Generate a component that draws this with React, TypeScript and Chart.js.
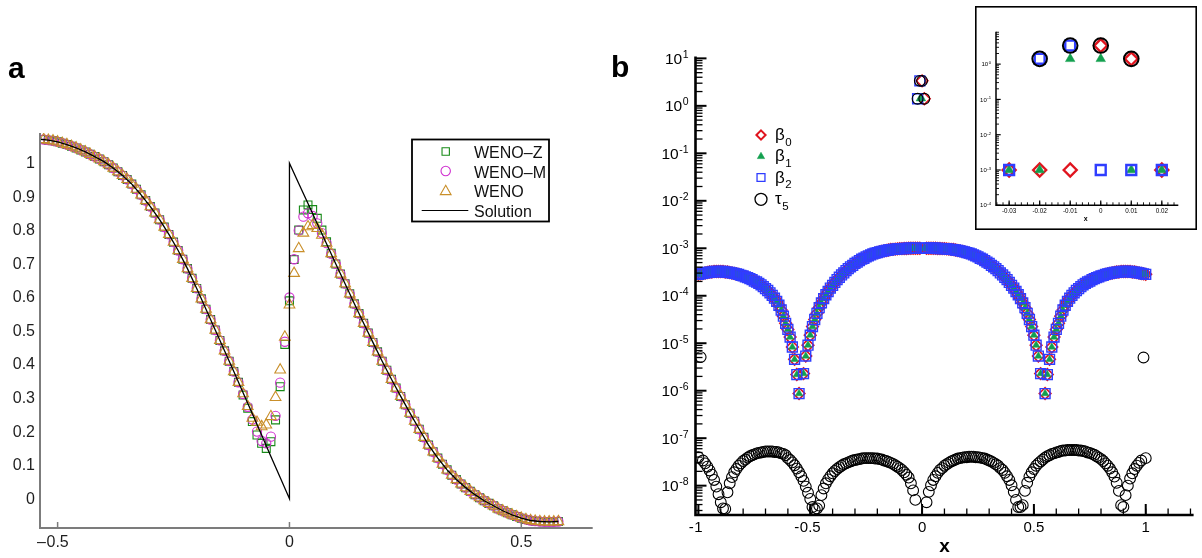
import React, { useEffect, useRef } from 'react';
import { Chart, registerables } from 'chart.js';

Chart.register(...registerables);

const FONT = '"Liberation Sans", Arial, Helvetica, sans-serif';

// ================= Panel a =================
const XA = [
  -0.53, -0.52, -0.51, -0.5, -0.49, -0.48, -0.47, -0.46, -0.45, -0.44,
  -0.43, -0.42, -0.41, -0.4, -0.39, -0.38, -0.37, -0.36, -0.35, -0.34,
  -0.33, -0.32, -0.31, -0.3, -0.29, -0.28, -0.27, -0.26, -0.25, -0.24,
  -0.23, -0.22, -0.21, -0.2, -0.19, -0.18, -0.17, -0.16, -0.15, -0.14,
  -0.13, -0.12, -0.11, -0.1, -0.09, -0.08, -0.07, -0.06, -0.05, -0.04,
  -0.03, -0.02, -0.01, 0, 0.01, 0.02, 0.03, 0.04, 0.05, 0.06,
  0.07, 0.08, 0.09, 0.1, 0.11, 0.12, 0.13, 0.14, 0.15, 0.16,
  0.17, 0.18, 0.19, 0.2, 0.21, 0.22, 0.23, 0.24, 0.25, 0.26,
  0.27, 0.28, 0.29, 0.3, 0.31, 0.32, 0.33, 0.34, 0.35, 0.36,
  0.37, 0.38, 0.39, 0.4, 0.41, 0.42, 0.43, 0.44, 0.45, 0.46,
  0.47, 0.48, 0.49, 0.5, 0.51, 0.52, 0.53, 0.54, 0.55, 0.56,
  0.57, 0.58,
];

const WENO_Z = [
  1.071, 1.069, 1.067, 1.064, 1.06, 1.056, 1.051, 1.046, 1.04, 1.034,
  1.027, 1.02, 1.013, 1.005, 0.996, 0.986, 0.975, 0.964, 0.952, 0.938,
  0.923, 0.906, 0.889, 0.871, 0.852, 0.832, 0.81, 0.788, 0.765, 0.74,
  0.714, 0.686, 0.657, 0.627, 0.596, 0.565, 0.534, 0.503, 0.472, 0.441,
  0.41, 0.379, 0.347,
  0.309, 0.27, 0.23, 0.19, 0.165, 0.15, 0.17, 0.235, 0.334, 0.46,
  0.59, 0.713, 0.801, 0.861, 0.876, 0.862, 0.836, 0.801, 0.766, 0.732, 0.7,
  0.67, 0.641, 0.611, 0.581, 0.552, 0.523, 0.494, 0.466, 0.438, 0.41,
  0.383, 0.356, 0.33, 0.305, 0.28, 0.255, 0.231, 0.207, 0.183, 0.16,
  0.14, 0.121, 0.103, 0.086, 0.07, 0.057, 0.044, 0.033, 0.022, 0.012,
  0.003, -0.006, -0.014, -0.021, -0.03, -0.036, -0.042, -0.048, -0.053, -0.058,
  -0.062, -0.065, -0.067, -0.068, -0.069, -0.069, -0.069, -0.068,
];

const WENO_M = [
  1.071, 1.069, 1.067, 1.064, 1.06, 1.056, 1.051, 1.046, 1.04, 1.034,
  1.027, 1.02, 1.013, 1.005, 0.996, 0.986, 0.975, 0.964, 0.952, 0.938,
  0.923, 0.906, 0.889, 0.871, 0.852, 0.832, 0.81, 0.788, 0.765, 0.74,
  0.714, 0.686, 0.657, 0.627, 0.596, 0.565, 0.534, 0.503, 0.472, 0.441,
  0.41, 0.379, 0.347,
  0.312, 0.274, 0.236, 0.2, 0.172, 0.165, 0.185, 0.247, 0.346, 0.468,
  0.6, 0.714, 0.8, 0.841, 0.851, 0.843, 0.821, 0.792, 0.762, 0.73, 0.7,
  0.67, 0.641, 0.611, 0.581, 0.552, 0.523, 0.494, 0.466, 0.438, 0.41,
  0.383, 0.356, 0.33, 0.305, 0.28, 0.255, 0.231, 0.207, 0.183, 0.16,
  0.14, 0.121, 0.103, 0.086, 0.07, 0.057, 0.044, 0.033, 0.022, 0.012,
  0.003, -0.006, -0.014, -0.021, -0.03, -0.036, -0.042, -0.048, -0.053, -0.058,
  -0.062, -0.065, -0.067, -0.068, -0.069, -0.069, -0.069, -0.068,
];

const WENO_CLASSIC = [
  1.071, 1.069, 1.067, 1.064, 1.06, 1.056, 1.051, 1.046, 1.04, 1.034,
  1.027, 1.02, 1.013, 1.005, 0.996, 0.986, 0.975, 0.964, 0.952, 0.938,
  0.923, 0.906, 0.889, 0.871, 0.852, 0.832, 0.81, 0.788, 0.765, 0.74,
  0.714, 0.686, 0.657, 0.627, 0.596, 0.565, 0.534, 0.503, 0.472, 0.441,
  0.41, 0.379, 0.347,
  0.313, 0.275, 0.24, 0.228, 0.215, 0.22, 0.245, 0.302, 0.384, 0.482,
  0.578, 0.672, 0.746, 0.792, 0.811, 0.815, 0.806, 0.786, 0.762, 0.731, 0.7,
  0.67, 0.641, 0.611, 0.581, 0.552, 0.523, 0.494, 0.466, 0.438, 0.41,
  0.383, 0.356, 0.33, 0.305, 0.28, 0.255, 0.231, 0.207, 0.183, 0.16,
  0.14, 0.121, 0.103, 0.086, 0.07, 0.057, 0.044, 0.033, 0.022, 0.012,
  0.003, -0.006, -0.014, -0.021, -0.03, -0.036, -0.042, -0.048, -0.053, -0.058,
  -0.062, -0.065, -0.067, -0.068, -0.069, -0.069, -0.069, -0.068,
];

const SOL_X = [
  -0.54, -0.52, -0.5, -0.48, -0.46, -0.44, -0.42, -0.4, -0.38, -0.36,
  -0.34, -0.32, -0.3, -0.28, -0.26, -0.24, -0.22, -0.2, -0.18, -0.16,
  -0.14, -0.12, -0.1, -0.08, -0.06, -0.04, -0.02, 0,
  0, 0.02, 0.04, 0.06, 0.08, 0.1, 0.12, 0.14, 0.16, 0.18,
  0.2, 0.22, 0.24, 0.26, 0.28, 0.3, 0.32, 0.34, 0.36, 0.38,
  0.4, 0.42, 0.44, 0.46, 0.48, 0.5, 0.52, 0.54, 0.56, 0.58,
];
const SOL_Y = [
  1.072, 1.069, 1.064, 1.056, 1.046, 1.034, 1.02, 1.005, 0.986, 0.964,
  0.938, 0.906, 0.871, 0.832, 0.788, 0.74, 0.686, 0.627, 0.565, 0.503,
  0.441, 0.379, 0.316, 0.253, 0.19, 0.126, 0.063, 0,
  1.0, 0.94, 0.88, 0.82, 0.76, 0.7, 0.641, 0.581, 0.523, 0.466,
  0.41, 0.356, 0.305, 0.255, 0.207, 0.16, 0.121, 0.086, 0.057, 0.033,
  0.012, -0.006, -0.021, -0.036, -0.048, -0.058, -0.065, -0.068, -0.069, -0.068,
];

const A_SERIES = ['WENO–Z', 'WENO–M', 'WENO', 'Solution'];
const A_X_TICKS = [-0.5, 0, 0.5];
const A_X_LABELS = ['–0.5', '0', '0.5'];
const A_Y_TICKS = [0, 0.1, 0.2, 0.3, 0.4, 0.5, 0.6, 0.7, 0.8, 0.9, 1];
const A_Y_LABELS = ['0', '0.1', '0.2', '0.3', '0.4', '0.5', '0.6', '0.7', '0.8', '0.9', '1'];
const A_X_RANGE = [-0.538, 0.654];
const A_Y_RANGE = [-0.0874, 1.0904];

// ================= Panel b =================
const XB = [
  -1, -0.99, -0.98, -0.97, -0.96, -0.95, -0.94, -0.93, -0.92, -0.91,
  -0.9, -0.89, -0.88, -0.87, -0.86, -0.85, -0.84, -0.83, -0.82, -0.81,
  -0.8, -0.79, -0.78, -0.77, -0.76, -0.75, -0.74, -0.73, -0.72, -0.71,
  -0.7, -0.69, -0.68, -0.67, -0.66, -0.65, -0.64, -0.63, -0.62, -0.61,
  -0.6, -0.59, -0.58, -0.57, -0.56, -0.55, -0.54, -0.53, -0.52, -0.51,
  -0.5, -0.49, -0.48, -0.47, -0.46, -0.45, -0.44, -0.43, -0.42, -0.41,
  -0.4, -0.39, -0.38, -0.37, -0.36, -0.35, -0.34, -0.33, -0.32, -0.31,
  -0.3, -0.29, -0.28, -0.27, -0.26, -0.25, -0.24, -0.23, -0.22, -0.21,
  -0.2, -0.19, -0.18, -0.17, -0.16, -0.15, -0.14, -0.13, -0.12, -0.11,
  -0.1, -0.09, -0.08, -0.07, -0.06, -0.05, -0.04, -0.03, -0.02, -0.01,
  0,
  0.01, 0.02, 0.03, 0.04, 0.05, 0.06, 0.07, 0.08, 0.09, 0.1,
  0.11, 0.12, 0.13, 0.14, 0.15, 0.16, 0.17, 0.18, 0.19, 0.2,
  0.21, 0.22, 0.23, 0.24, 0.25, 0.26, 0.27, 0.28, 0.29, 0.3,
  0.31, 0.32, 0.33, 0.34, 0.35, 0.36, 0.37, 0.38, 0.39, 0.4,
  0.41, 0.42, 0.43, 0.44, 0.45, 0.46, 0.47, 0.48, 0.49, 0.5,
  0.51, 0.52, 0.53, 0.54, 0.55, 0.56, 0.57, 0.58, 0.59, 0.6,
  0.61, 0.62, 0.63, 0.64, 0.65, 0.66, 0.67, 0.68, 0.69, 0.7,
  0.71, 0.72, 0.73, 0.74, 0.75, 0.76, 0.77, 0.78, 0.79, 0.8,
  0.81, 0.82, 0.83, 0.84, 0.85, 0.86, 0.87, 0.88, 0.89, 0.9,
  0.91, 0.92, 0.93, 0.94, 0.95, 0.96, 0.97, 0.98, 0.99, 1,
];

const BETA0 = [
  2.82e-4, 2.88e-4, 2.95e-4, 3.02e-4, 3.09e-4, 3.16e-4, 3.16e-4, 3.24e-4, 3.24e-4, 3.24e-4,
  3.24e-4, 3.24e-4, 3.16e-4, 3.16e-4, 3.09e-4, 3.02e-4, 2.95e-4, 2.88e-4, 2.82e-4, 2.69e-4,
  2.63e-4, 2.51e-4, 2.4e-4, 2.29e-4, 2.19e-4, 2.04e-4, 1.95e-4, 1.82e-4, 1.7e-4, 1.55e-4,
  1.41e-4, 1.29e-4, 1.15e-4, 1.02e-4, 8.91e-5, 7.59e-5, 6.31e-5, 5.01e-5, 3.72e-5, 2.63e-5,
  1.95e-5, 1.35e-5, 8.32e-6, 4.57e-6, 2.19e-6, 8.71e-7, 1e-10, 2.29e-6, 5.37e-6, 9.12e-6,
  1.48e-5, 2.24e-5, 3.16e-5, 4.27e-5, 5.62e-5, 7.08e-5, 8.71e-5, 1.05e-4, 1.23e-4, 1.45e-4,
  1.66e-4, 1.91e-4, 2.19e-4, 2.45e-4, 2.75e-4, 3.02e-4, 3.39e-4, 3.72e-4, 4.07e-4, 4.37e-4,
  4.79e-4, 5.13e-4, 5.5e-4, 5.89e-4, 6.17e-4, 6.61e-4, 6.92e-4, 7.24e-4, 7.59e-4, 7.9e-4,
  8.1e-4, 8.4e-4, 8.6e-4, 8.8e-4, 9.0e-4, 9.2e-4, 9.4e-4, 9.5e-4, 9.6e-4, 9.7e-4,
  9.8e-4, 9.8e-4, 9.9e-4, 9.9e-4, 1.0e-3, 1.0e-3, 1.0e-3, 1.0e-3, 1.0e-3, 1.0e-3,
  3.36,
  1.41, 1.0e-3, 1.0e-3, 1.0e-3, 1.0e-3, 1.0e-3, 9.9e-4, 9.9e-4, 9.8e-4, 9.8e-4,
  9.7e-4, 9.6e-4, 9.5e-4, 9.4e-4, 9.2e-4, 9.0e-4, 8.8e-4, 8.6e-4, 8.4e-4, 8.1e-4,
  7.9e-4, 7.59e-4, 7.24e-4, 6.92e-4, 6.61e-4, 6.17e-4, 5.89e-4, 5.5e-4, 5.13e-4, 4.79e-4,
  4.37e-4, 4.07e-4, 3.72e-4, 3.39e-4, 3.02e-4, 2.75e-4, 2.45e-4, 2.19e-4, 1.91e-4, 1.66e-4,
  1.45e-4, 1.23e-4, 1.05e-4, 8.71e-5, 7.08e-5, 5.62e-5, 4.27e-5, 3.16e-5, 2.24e-5, 1.48e-5,
  9.12e-6, 5.37e-6, 2.29e-6, 1e-10, 8.71e-7, 2.19e-6, 4.57e-6, 8.32e-6, 1.35e-5, 1.95e-5,
  2.63e-5, 3.72e-5, 5.01e-5, 6.31e-5, 7.59e-5, 8.91e-5, 1.02e-4, 1.15e-4, 1.29e-4, 1.41e-4,
  1.55e-4, 1.7e-4, 1.82e-4, 1.95e-4, 2.04e-4, 2.19e-4, 2.29e-4, 2.4e-4, 2.51e-4, 2.63e-4,
  2.69e-4, 2.82e-4, 2.88e-4, 2.95e-4, 3.02e-4, 3.09e-4, 3.16e-4, 3.16e-4, 3.24e-4, 3.24e-4,
  3.24e-4, 3.24e-4, 3.24e-4, 3.16e-4, 3.16e-4, 3.09e-4, 3.02e-4, 2.95e-4, 2.88e-4, 2.82e-4,
];

const BETA1 = [
  2.82e-4, 2.88e-4, 2.95e-4, 3.02e-4, 3.09e-4, 3.16e-4, 3.16e-4, 3.24e-4, 3.24e-4, 3.24e-4,
  3.24e-4, 3.24e-4, 3.16e-4, 3.16e-4, 3.09e-4, 3.02e-4, 2.95e-4, 2.88e-4, 2.82e-4, 2.69e-4,
  2.63e-4, 2.51e-4, 2.4e-4, 2.29e-4, 2.19e-4, 2.04e-4, 1.95e-4, 1.82e-4, 1.7e-4, 1.55e-4,
  1.41e-4, 1.29e-4, 1.15e-4, 1.02e-4, 8.91e-5, 7.59e-5, 6.31e-5, 5.01e-5, 3.72e-5, 2.63e-5,
  1.95e-5, 1.35e-5, 8.32e-6, 4.57e-6, 2.19e-6, 8.71e-7, 1e-10, 2.29e-6, 5.37e-6, 9.12e-6,
  1.48e-5, 2.24e-5, 3.16e-5, 4.27e-5, 5.62e-5, 7.08e-5, 8.71e-5, 1.05e-4, 1.23e-4, 1.45e-4,
  1.66e-4, 1.91e-4, 2.19e-4, 2.45e-4, 2.75e-4, 3.02e-4, 3.39e-4, 3.72e-4, 4.07e-4, 4.37e-4,
  4.79e-4, 5.13e-4, 5.5e-4, 5.89e-4, 6.17e-4, 6.61e-4, 6.92e-4, 7.24e-4, 7.59e-4, 7.9e-4,
  8.1e-4, 8.4e-4, 8.6e-4, 8.8e-4, 9.0e-4, 9.2e-4, 9.4e-4, 9.5e-4, 9.6e-4, 9.7e-4,
  9.8e-4, 9.8e-4, 9.9e-4, 9.9e-4, 1.0e-3, 1.0e-3, 1.0e-3, 1.0e-3, 1.0e-3, 1.41,
  1.41,
  1.0e-3, 1.0e-3, 1.0e-3, 1.0e-3, 1.0e-3, 1.0e-3, 9.9e-4, 9.9e-4, 9.8e-4, 9.8e-4,
  9.7e-4, 9.6e-4, 9.5e-4, 9.4e-4, 9.2e-4, 9.0e-4, 8.8e-4, 8.6e-4, 8.4e-4, 8.1e-4,
  7.9e-4, 7.59e-4, 7.24e-4, 6.92e-4, 6.61e-4, 6.17e-4, 5.89e-4, 5.5e-4, 5.13e-4, 4.79e-4,
  4.37e-4, 4.07e-4, 3.72e-4, 3.39e-4, 3.02e-4, 2.75e-4, 2.45e-4, 2.19e-4, 1.91e-4, 1.66e-4,
  1.45e-4, 1.23e-4, 1.05e-4, 8.71e-5, 7.08e-5, 5.62e-5, 4.27e-5, 3.16e-5, 2.24e-5, 1.48e-5,
  9.12e-6, 5.37e-6, 2.29e-6, 1e-10, 8.71e-7, 2.19e-6, 4.57e-6, 8.32e-6, 1.35e-5, 1.95e-5,
  2.63e-5, 3.72e-5, 5.01e-5, 6.31e-5, 7.59e-5, 8.91e-5, 1.02e-4, 1.15e-4, 1.29e-4, 1.41e-4,
  1.55e-4, 1.7e-4, 1.82e-4, 1.95e-4, 2.04e-4, 2.19e-4, 2.29e-4, 2.4e-4, 2.51e-4, 2.63e-4,
  2.69e-4, 2.82e-4, 2.88e-4, 2.95e-4, 3.02e-4, 3.09e-4, 3.16e-4, 3.16e-4, 3.24e-4, 3.24e-4,
  3.24e-4, 3.24e-4, 3.24e-4, 3.16e-4, 3.16e-4, 3.09e-4, 3.02e-4, 2.95e-4, 2.88e-4, 2.82e-4,
];

const BETA2 = [
  2.82e-4, 2.88e-4, 2.95e-4, 3.02e-4, 3.09e-4, 3.16e-4, 3.16e-4, 3.24e-4, 3.24e-4, 3.24e-4,
  3.24e-4, 3.24e-4, 3.16e-4, 3.16e-4, 3.09e-4, 3.02e-4, 2.95e-4, 2.88e-4, 2.82e-4, 2.69e-4,
  2.63e-4, 2.51e-4, 2.4e-4, 2.29e-4, 2.19e-4, 2.04e-4, 1.95e-4, 1.82e-4, 1.7e-4, 1.55e-4,
  1.41e-4, 1.29e-4, 1.15e-4, 1.02e-4, 8.91e-5, 7.59e-5, 6.31e-5, 5.01e-5, 3.72e-5, 2.63e-5,
  1.95e-5, 1.35e-5, 8.32e-6, 4.57e-6, 2.19e-6, 8.71e-7, 1e-10, 2.29e-6, 5.37e-6, 9.12e-6,
  1.48e-5, 2.24e-5, 3.16e-5, 4.27e-5, 5.62e-5, 7.08e-5, 8.71e-5, 1.05e-4, 1.23e-4, 1.45e-4,
  1.66e-4, 1.91e-4, 2.19e-4, 2.45e-4, 2.75e-4, 3.02e-4, 3.39e-4, 3.72e-4, 4.07e-4, 4.37e-4,
  4.79e-4, 5.13e-4, 5.5e-4, 5.89e-4, 6.17e-4, 6.61e-4, 6.92e-4, 7.24e-4, 7.59e-4, 7.9e-4,
  8.1e-4, 8.4e-4, 8.6e-4, 8.8e-4, 9.0e-4, 9.2e-4, 9.4e-4, 9.5e-4, 9.6e-4, 9.7e-4,
  9.8e-4, 9.8e-4, 9.9e-4, 9.9e-4, 1.0e-3, 1.0e-3, 1.0e-3, 1.0e-3, 1.41, 3.36,
  1.0e-3,
  1.0e-3, 1.0e-3, 1.0e-3, 1.0e-3, 1.0e-3, 1.0e-3, 9.9e-4, 9.9e-4, 9.8e-4, 9.8e-4,
  9.7e-4, 9.6e-4, 9.5e-4, 9.4e-4, 9.2e-4, 9.0e-4, 8.8e-4, 8.6e-4, 8.4e-4, 8.1e-4,
  7.9e-4, 7.59e-4, 7.24e-4, 6.92e-4, 6.61e-4, 6.17e-4, 5.89e-4, 5.5e-4, 5.13e-4, 4.79e-4,
  4.37e-4, 4.07e-4, 3.72e-4, 3.39e-4, 3.02e-4, 2.75e-4, 2.45e-4, 2.19e-4, 1.91e-4, 1.66e-4,
  1.45e-4, 1.23e-4, 1.05e-4, 8.71e-5, 7.08e-5, 5.62e-5, 4.27e-5, 3.16e-5, 2.24e-5, 1.48e-5,
  9.12e-6, 5.37e-6, 2.29e-6, 1e-10, 8.71e-7, 2.19e-6, 4.57e-6, 8.32e-6, 1.35e-5, 1.95e-5,
  2.63e-5, 3.72e-5, 5.01e-5, 6.31e-5, 7.59e-5, 8.91e-5, 1.02e-4, 1.15e-4, 1.29e-4, 1.41e-4,
  1.55e-4, 1.7e-4, 1.82e-4, 1.95e-4, 2.04e-4, 2.19e-4, 2.29e-4, 2.4e-4, 2.51e-4, 2.63e-4,
  2.69e-4, 2.82e-4, 2.88e-4, 2.95e-4, 3.02e-4, 3.09e-4, 3.16e-4, 3.16e-4, 3.24e-4, 3.24e-4,
  3.24e-4, 3.24e-4, 3.24e-4, 3.16e-4, 3.16e-4, 3.09e-4, 3.02e-4, 2.95e-4, 2.88e-4, 2.82e-4,
];

const TAU5 = [
  3.98e-8, 5.1e-6, 3.39e-8, 2.95e-8, 2.51e-8, 2.09e-8, 1.7e-8, 1.32e-8, 9.55e-9, 6.61e-9,
  4.47e-9, 3.31e-9, 3.24e-9, 7.24e-9, 1.12e-8, 1.51e-8, 1.91e-8, 2.24e-8, 2.63e-8, 2.95e-8,
  3.31e-8, 3.55e-8, 3.89e-8, 4.17e-8, 4.37e-8, 4.57e-8, 4.79e-8, 4.9e-8, 5.01e-8, 5.13e-8,
  5.25e-8, 5.25e-8, 5.25e-8, 5.25e-8, 5.13e-8, 5.13e-8, 5.01e-8, 4.79e-8, 4.68e-8, 4.37e-8,
  3.8e-8, 3.47e-8, 3.09e-8, 2.69e-8, 2.29e-8, 1.91e-8, 1.58e-8, 1.26e-8, 9.55e-9, 7.08e-9,
  5.25e-9, 3.55e-9, 3.16e-9, 3.31e-9, 3.8e-9, 6.31e-9, 8.71e-9, 1.12e-8, 1.35e-8, 1.58e-8,
  1.82e-8, 2.04e-8, 2.24e-8, 2.45e-8, 2.63e-8, 2.82e-8, 2.95e-8, 3.09e-8, 3.24e-8, 3.39e-8,
  3.47e-8, 3.55e-8, 3.63e-8, 3.72e-8, 3.8e-8, 3.8e-8, 3.8e-8, 3.8e-8, 3.8e-8, 3.72e-8,
  3.72e-8, 3.63e-8, 3.55e-8, 3.39e-8, 3.31e-8, 3.16e-8, 3.02e-8, 2.88e-8, 2.69e-8, 2.51e-8,
  2.34e-8, 2.14e-8, 1.91e-8, 1.7e-8, 1.48e-8, 1.12e-8, 7.94e-9, 5.01e-9, 1.41, 3.36,
  3.36,
  1.41, 4.47e-9, 7.41e-9, 1.02e-8, 1.32e-8, 1.58e-8, 1.86e-8, 2.14e-8, 2.34e-8, 2.63e-8,
  2.82e-8, 3.02e-8, 3.24e-8, 3.39e-8, 3.55e-8, 3.72e-8, 3.8e-8, 3.89e-8, 3.98e-8, 3.98e-8,
  4.07e-8, 4.07e-8, 4.07e-8, 3.98e-8, 3.98e-8, 3.89e-8, 3.8e-8, 3.72e-8, 3.55e-8, 3.39e-8,
  3.24e-8, 3.02e-8, 2.82e-8, 2.63e-8, 2.34e-8, 2.14e-8, 1.86e-8, 1.58e-8, 1.32e-8, 1.02e-8,
  7.41e-9, 5.01e-9, 3.55e-9, 3.55e-9, 3.89e-9, 7.76e-9, 1.15e-8, 1.55e-8, 1.91e-8, 2.24e-8,
  2.63e-8, 2.95e-8, 3.24e-8, 3.55e-8, 3.89e-8, 4.17e-8, 4.37e-8, 4.68e-8, 4.79e-8, 5.01e-8,
  5.13e-8, 5.37e-8, 5.5e-8, 5.5e-8, 5.62e-8, 5.62e-8, 5.62e-8, 5.62e-8, 5.62e-8, 5.5e-8,
  5.5e-8, 5.37e-8, 5.25e-8, 5.01e-8, 4.9e-8, 4.68e-8, 4.47e-8, 4.17e-8, 3.89e-8, 3.63e-8,
  3.31e-8, 2.95e-8, 2.63e-8, 2.29e-8, 1.91e-8, 1.55e-8, 1.15e-8, 7.76e-9, 3.89e-9, 3.55e-9,
  6.31e-9, 1.0e-8, 1.41e-8, 1.82e-8, 2.24e-8, 2.63e-8, 3.02e-8, 3.39e-8, 5.0e-6, 3.8e-8,
];

const B_SERIES = [['β', '0'], ['β', '1'], ['β', '2'], ['τ', '5']];
const B_X_TICKS = [-1, -0.5, 0, 0.5, 1];
const B_X_LABELS = ['-1', '-0.5', '0', '0.5', '1'];
const B_Y_EXPONENTS = [1, 0, -1, -2, -3, -4, -5, -6, -7, -8];
const B_X_RANGE = [-1.013, 1.214];
const B_Y_RANGE = [2.41e-9, 11.0];

const INSET_X_TICKS = [-0.03, -0.02, -0.01, 0, 0.01, 0.02];
const INSET_X_LABELS = ['-0.03', '-0.02', '-0.01', '0', '0.01', '0.02'];
const INSET_Y_EXPONENTS = [0, -1, -2, -3, -4];
const INSET_X_RANGE = [-0.0343, 0.0254];
const INSET_Y_RANGE = [1e-4, 8.3];

// ================= styles =================
const C_Z = '#178a17';
const C_M = '#d030d0';
const C_W = '#c98f2a';
const C_RED = '#e0141e';
const C_GREEN = '#13a04f';
const C_BLUE = '#2f3dff';
const NONE = 'rgba(0,0,0,0)';

const pts = (xs: number[], ys: number[]) => xs.map((x, i) => ({ x, y: ys[i] }));

function seg(ctx: any, x1: number, y1: number, x2: number, y2: number) {
  ctx.beginPath();
  ctx.moveTo(x1, y1);
  ctx.lineTo(x2, y2);
  ctx.stroke();
}

function marker(ctx: any, style: string, x: number, y: number, r: number, stroke: string, fill: string | null, lw: number) {
  ctx.save();
  ctx.lineWidth = lw;
  ctx.strokeStyle = stroke;
  ctx.beginPath();
  if (style === 'circle') ctx.arc(x, y, r, 0, Math.PI * 2);
  else if (style === 'rect') {
    const s = r * Math.SQRT1_2;
    ctx.rect(x - s, y - s, 2 * s, 2 * s);
  } else if (style === 'rectRot') {
    ctx.moveTo(x, y - r);
    ctx.lineTo(x + r, y);
    ctx.lineTo(x, y + r);
    ctx.lineTo(x - r, y);
    ctx.closePath();
  } else if (style === 'triangle') {
    ctx.moveTo(x, y - r);
    ctx.lineTo(x + r * 0.866, y + r * 0.5);
    ctx.lineTo(x - r * 0.866, y + r * 0.5);
    ctx.closePath();
  }
  if (fill) {
    ctx.fillStyle = fill;
    ctx.fill();
  }
  ctx.stroke();
  ctx.restore();
}

// numeral centered on the tick, sign hanging to the left
function signedLabel(ctx: any, label: string, cx: number, baseline: number) {
  const neg = label[0] === '-' || label[0] === '–';
  const body = neg ? label.slice(1) : label;
  const w = ctx.measureText(body).width;
  ctx.textAlign = 'left';
  ctx.fillText(body, cx - w / 2, baseline);
  if (neg) {
    const ws = ctx.measureText(label[0]).width;
    ctx.fillText(label[0], cx - w / 2 - ws - 0.5, baseline);
  }
}

function powLabel(ctx: any, exp: number, xRight: number, yTick: number, baseSize: number, supSize: number) {
  const base = '10';
  const sup = String(exp);
  ctx.font = `${baseSize}px ${FONT}`;
  const wb = ctx.measureText(base).width;
  ctx.font = `${supSize}px ${FONT}`;
  const ws = ctx.measureText(sup).width;
  const x0 = xRight - ws - wb - 0.5;
  ctx.textAlign = 'left';
  ctx.textBaseline = 'alphabetic';
  ctx.font = `${baseSize}px ${FONT}`;
  ctx.fillText(base, x0, yTick + baseSize * 0.36);
  ctx.font = `${supSize}px ${FONT}`;
  ctx.fillText(sup, x0 + wb + 0.5, yTick - baseSize * 0.03);
}

// ================= plugins =================
const aDecor = {
  id: 'aDecor',
  afterDraw(chart: any) {
    const { ctx, chartArea: a, scales } = chart;
    const xs = scales.x;
    const ys = scales.y;
    ctx.save();
    ctx.strokeStyle = '#7c7c7c';
    ctx.lineWidth = 2;
    ctx.beginPath();
    ctx.moveTo(a.left, a.top);
    ctx.lineTo(a.left, a.bottom);
    ctx.lineTo(a.right, a.bottom);
    ctx.stroke();
    ctx.lineWidth = 1.5;
    A_X_TICKS.forEach((v) => {
      const px = xs.getPixelForValue(v);
      seg(ctx, px, a.bottom, px, a.bottom - 6);
    });
    ctx.fillStyle = '#1e1e1e';
    ctx.font = `16px ${FONT}`;
    ctx.textBaseline = 'alphabetic';
    A_X_TICKS.forEach((v, i) => signedLabel(ctx, A_X_LABELS[i], xs.getPixelForValue(v), a.bottom + 18.5));
    ctx.textAlign = 'right';
    ctx.textBaseline = 'middle';
    A_Y_TICKS.forEach((v, i) => ctx.fillText(A_Y_LABELS[i], a.left - 5, ys.getPixelForValue(v) + 0.5));
    ctx.fillStyle = '#000';
    ctx.font = `bold 30px ${FONT}`;
    ctx.textAlign = 'left';
    ctx.textBaseline = 'alphabetic';
    ctx.fillText('a', 8, 78);
    // legend
    ctx.strokeStyle = '#000';
    ctx.lineWidth = 1.8;
    ctx.strokeRect(412, 139.5, 137, 82);
    const mx = 445.7;
    marker(ctx, 'rect', mx, 151.5, 5.2, C_Z, null, 1.1);
    marker(ctx, 'circle', mx, 171, 4.7, C_M, null, 1.1);
    marker(ctx, 'triangle', mx, 191.5, 6.2, C_W, null, 1.1);
    ctx.strokeStyle = '#000';
    ctx.lineWidth = 1.2;
    seg(ctx, 421.7, 210.5, 468.3, 210.5);
    ctx.fillStyle = '#111';
    ctx.font = `16px ${FONT}`;
    const rows = [151.5, 171.5, 190.5, 210.5];
    A_SERIES.forEach((s, i) => ctx.fillText(s, 474, rows[i] + 6));
    ctx.restore();
  },
};

const bDecor = {
  id: 'bDecor',
  afterDraw(chart: any) {
    const { ctx, chartArea: a, scales } = chart;
    const xs = scales.x;
    const ys = scales.y;
    ctx.save();
    ctx.strokeStyle = '#000';
    ctx.fillStyle = '#000';
    ctx.lineWidth = 1.3;
    for (let e = -9; e <= 1; e++) {
      for (let m = 2; m <= 9; m++) {
        const v = m * Math.pow(10, e);
        if (v < ys.min || v > ys.max) continue;
        const py = ys.getPixelForValue(v);
        seg(ctx, a.left, py, a.left + 7, py);
      }
    }
    ctx.lineWidth = 2;
    B_Y_EXPONENTS.forEach((e) => {
      const py = ys.getPixelForValue(Math.pow(10, e));
      seg(ctx, a.left, py, a.left + 11, py);
    });
    ctx.lineWidth = 1.3;
    for (let i = -10; i <= 12; i++) {
      const v = i / 10;
      if (v < xs.min || v > xs.max) continue;
      const px = xs.getPixelForValue(v);
      seg(ctx, px, a.bottom, px, a.bottom - 6.5);
    }
    ctx.lineWidth = 2;
    B_X_TICKS.forEach((v) => {
      const px = xs.getPixelForValue(v);
      seg(ctx, px, a.bottom, px, a.bottom - 11);
    });
    ctx.lineWidth = 2.6;
    ctx.beginPath();
    ctx.moveTo(a.left, a.top);
    ctx.lineTo(a.left, a.bottom);
    ctx.lineTo(a.right, a.bottom);
    ctx.stroke();
    B_Y_EXPONENTS.forEach((e) => powLabel(ctx, e, a.left - 7, ys.getPixelForValue(Math.pow(10, e)), 15.5, 10.5));
    ctx.font = `15px ${FONT}`;
    ctx.textBaseline = 'alphabetic';
    B_X_TICKS.forEach((v, i) => signedLabel(ctx, B_X_LABELS[i], xs.getPixelForValue(v), a.bottom + 17));
    ctx.font = `bold 19px ${FONT}`;
    ctx.textAlign = 'center';
    ctx.fillText('x', (a.left + a.right) / 2, 551.5);
    ctx.font = `bold 30px ${FONT}`;
    ctx.textAlign = 'left';
    ctx.fillText('b', 11, 77);
    // legend
    const lx = 161;
    const rows = [135, 156, 177.5, 199.3];
    marker(ctx, 'rectRot', lx, rows[0], 4.6, C_RED, null, 2);
    marker(ctx, 'triangle', lx, rows[1] + 0.5, 4.2, C_GREEN, C_GREEN, 0.6);
    marker(ctx, 'rect', lx, rows[2], 5.6, C_BLUE, null, 1.3);
    marker(ctx, 'circle', lx, rows[3], 6, '#000', null, 1.3);
    ctx.fillStyle = '#000';
    B_SERIES.forEach(([g, sub], i) => {
      ctx.font = `17px ${FONT}`;
      ctx.fillText(g, 175, rows[i] + 5);
      const w = ctx.measureText(g).width;
      ctx.font = `11.5px ${FONT}`;
      ctx.fillText(sub, 175 + w + 0.5, rows[i] + 10.5);
    });
    ctx.restore();
  },
};

const insetDecor = {
  id: 'insetDecor',
  beforeDraw(chart: any) {
    const { ctx, width, height } = chart;
    ctx.save();
    ctx.fillStyle = '#fff';
    ctx.fillRect(0, 0, width, height);
    ctx.restore();
  },
  afterDraw(chart: any) {
    const { ctx, chartArea: a, scales, width, height } = chart;
    const xs = scales.x;
    const ys = scales.y;
    ctx.save();
    ctx.strokeStyle = '#000';
    ctx.fillStyle = '#000';
    ctx.lineWidth = 1.6;
    ctx.strokeRect(0.8, 0.8, width - 1.6, height - 1.6);
    ctx.lineWidth = 0.9;
    for (let e = -5; e <= 0; e++) {
      for (let m = 2; m <= 9; m++) {
        const v = m * Math.pow(10, e);
        if (v < ys.min || v > ys.max) continue;
        const py = ys.getPixelForValue(v);
        seg(ctx, a.left, py, a.left + 3, py);
      }
    }
    ctx.lineWidth = 1.2;
    INSET_Y_EXPONENTS.forEach((e) => {
      const py = ys.getPixelForValue(Math.pow(10, e));
      seg(ctx, a.left, py, a.left + 4.7, py);
    });
    ctx.lineWidth = 0.9;
    for (let i = -17; i <= 12; i++) {
      const v = i * 0.002;
      if (v < xs.min || v > xs.max) continue;
      const px = xs.getPixelForValue(v);
      seg(ctx, px, a.bottom, px, a.bottom - 3);
    }
    ctx.lineWidth = 1.2;
    INSET_X_TICKS.forEach((v) => {
      const px = xs.getPixelForValue(v);
      seg(ctx, px, a.bottom, px, a.bottom - 4.7);
    });
    ctx.lineWidth = 1.5;
    ctx.beginPath();
    ctx.moveTo(a.left, a.top);
    ctx.lineTo(a.left, a.bottom);
    ctx.lineTo(a.right, a.bottom);
    ctx.stroke();
    INSET_Y_EXPONENTS.forEach((e) => powLabel(ctx, e, a.left - 5, ys.getPixelForValue(Math.pow(10, e)), 6, 4.2));
    ctx.font = `6.3px ${FONT}`;
    ctx.textAlign = 'center';
    ctx.textBaseline = 'alphabetic';
    INSET_X_TICKS.forEach((v, i) => ctx.fillText(INSET_X_LABELS[i], xs.getPixelForValue(v), a.bottom + 8));
    ctx.font = `bold 7px ${FONT}`;
    ctx.fillText('x', 110.7, 214.5);
    ctx.restore();
  },
};

function bDatasets(s: any, clip?: number) {
  const common: any = { showLine: false };
  if (clip !== undefined) common.clip = clip;
  return [
    { ...common, label: 'β0', data: pts(XB, BETA0), pointStyle: 'rectRot', pointRadius: s.dR, pointBorderWidth: s.dW, pointBorderColor: C_RED, pointBackgroundColor: NONE, order: 4 },
    { ...common, label: 'β1', data: pts(XB, BETA1), pointStyle: 'triangle', pointRadius: s.tR, pointBorderWidth: 0.5, pointBorderColor: C_GREEN, pointBackgroundColor: C_GREEN, order: 3 },
    { ...common, label: 'β2', data: pts(XB, BETA2), pointStyle: 'rect', pointRadius: s.sR, pointBorderWidth: s.sW, pointBorderColor: C_BLUE, pointBackgroundColor: NONE, order: 2 },
    { ...common, label: 'τ5', data: pts(XB, TAU5), pointStyle: 'circle', pointRadius: s.cR, pointBorderWidth: s.cW, pointBorderColor: '#000', pointBackgroundColor: NONE, order: 1 },
  ];
}

const baseOptions = (padding: any, xr: number[], yr: number[], yType: string) => ({
  animation: false,
  responsive: false,
  devicePixelRatio: 1,
  events: [],
  layout: { padding },
  scales: {
    x: { type: 'linear', display: false, min: xr[0], max: xr[1] },
    y: { type: yType, display: false, min: yr[0], max: yr[1] },
  },
  plugins: { legend: { display: false }, tooltip: { enabled: false } },
});

export default function App() {
  const refA = useRef<HTMLCanvasElement>(null);
  const refB = useRef<HTMLCanvasElement>(null);
  const refC = useRef<HTMLCanvasElement>(null);

  useEffect(() => {
    const chartA = new Chart(refA.current as any, {
      type: 'scatter',
      data: {
        datasets: [
          { label: A_SERIES[0], data: pts(XA, WENO_Z), pointStyle: 'rect', pointRadius: 5.6, pointBorderWidth: 1.1, pointBorderColor: C_Z, pointBackgroundColor: NONE, order: 4 },
          { label: A_SERIES[1], data: pts(XA, WENO_M), pointStyle: 'circle', pointRadius: 4.6, pointBorderWidth: 1.1, pointBorderColor: C_M, pointBackgroundColor: NONE, order: 3 },
          { label: A_SERIES[2], data: pts(XA, WENO_CLASSIC), pointStyle: 'triangle', pointRadius: 6.2, pointBorderWidth: 1.1, pointBorderColor: C_W, pointBackgroundColor: NONE, order: 2 },
          { label: A_SERIES[3], data: pts(SOL_X, SOL_Y), showLine: true, pointRadius: 0, borderColor: '#000', borderWidth: 1.3, tension: 0, order: 1 },
        ],
      } as any,
      options: baseOptions({ left: 40, right: 5, top: 133, bottom: 30 }, A_X_RANGE, A_Y_RANGE, 'linear') as any,
      plugins: [aDecor],
    });

    const chartB = new Chart(refB.current as any, {
      type: 'scatter',
      data: { datasets: bDatasets({ dR: 5.8, dW: 1.6, tR: 4.3, sR: 7, sW: 1.4, cR: 5.4, cW: 1.1 }) } as any,
      options: baseOptions({ left: 95.5, right: 3.5, top: 56.4, bottom: 43 }, B_X_RANGE, B_Y_RANGE, 'logarithmic') as any,
      plugins: [bDecor],
    });

    const chartC = new Chart(refC.current as any, {
      type: 'scatter',
      data: { datasets: bDatasets({ dR: 6.5, dW: 2.4, tR: 5.5, sR: 7, sW: 2.4, cR: 7.3, cW: 2 }, 10) } as any,
      options: baseOptions({ left: 21, right: 18.7, top: 25.7, bottom: 24.7 }, INSET_X_RANGE, INSET_Y_RANGE, 'logarithmic') as any,
      plugins: [insetDecor],
    });

    return () => {
      chartA.destroy();
      chartB.destroy();
      chartC.destroy();
    };
  }, []);

  return (
    <div style={{ position: 'absolute', left: 0, top: 0, width: 1202, height: 558, background: '#fff', overflow: 'hidden' }}>
      <canvas ref={refA} width={600} height={558} style={{ position: 'absolute', left: 0, top: 0 }} />
      <canvas ref={refB} width={602} height={558} style={{ position: 'absolute', left: 600, top: 0 }} />
      <canvas ref={refC} width={222} height={224} style={{ position: 'absolute', left: 975, top: 6 }} />
    </div>
  );
}
